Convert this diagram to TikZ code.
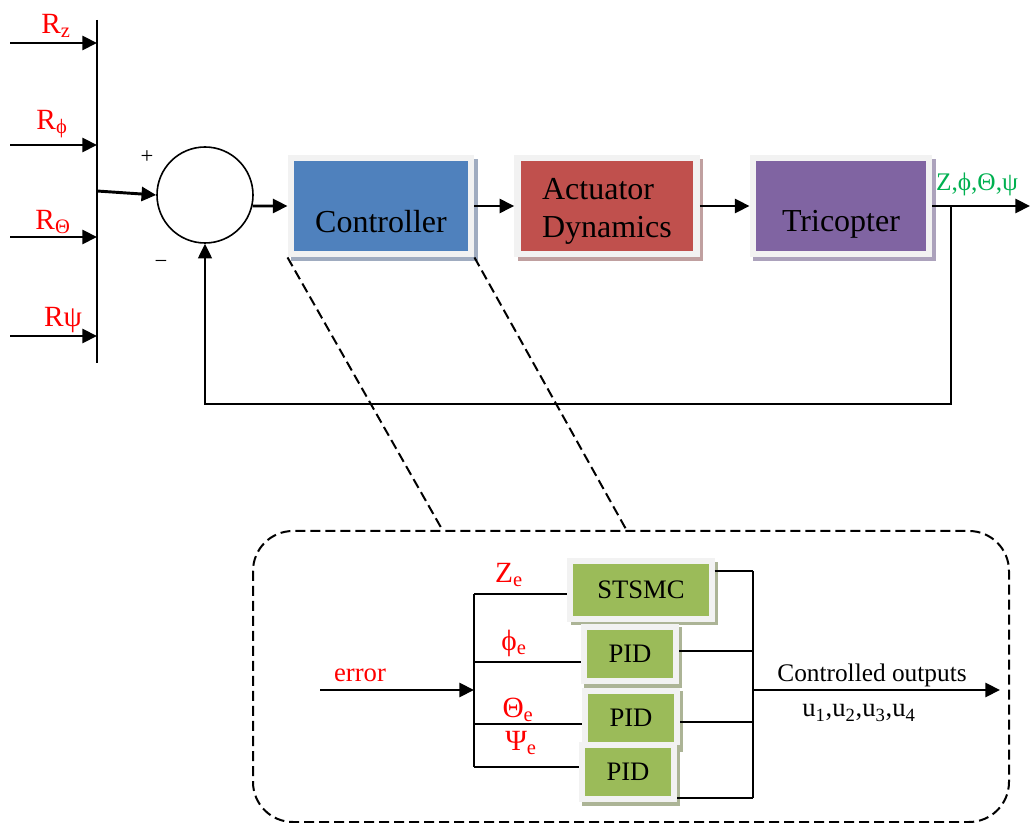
\documentclass[tikz,border=0pt]{standalone}
\usepackage{fontspec}
\setmainfont{Liberation Serif}
\usetikzlibrary{arrows.meta,calc,positioning}
\definecolor{ctrlblue}{RGB}{79,129,189}
\definecolor{actred}{RGB}{192,80,77}
\definecolor{tripurple}{RGB}{128,100,162}
\definecolor{pidgreen}{RGB}{155,187,89}
\definecolor{framegray}{RGB}{242,242,242}
\definecolor{ctrlshade}{RGB}{160,172,192}
\definecolor{actshade}{RGB}{192,160,160}
\definecolor{trishade}{RGB}{172,162,188}
\definecolor{pidshade}{RGB}{172,180,150}
\definecolor{outgreen}{RGB}{0,176,80}

\begin{document}
\begin{tikzpicture}[x=0.75pt, y=-0.75pt,
  arrow/.style={line width=2.2pt, -{Triangle[length=11pt,width=10.5pt]}},
  thinline/.style={line width=1.2pt},
  bigbox/.style 2 args={draw=framegray, fill=#1, line width=5.2pt,
    minimum width=135pt, minimum height=72pt, inner sep=0pt,
    preaction={draw=#2, fill=#2, line width=5.2pt,
      transform canvas={shift={(2.5pt,-3pt)}}}},
  smallbox/.style={draw=framegray, fill=pidgreen, line width=4.5pt,
    minimum width=69pt, minimum height=41pt, inner sep=0pt,
    font=\fontsize{20}{24}\selectfont,
    preaction={draw=pidshade, fill=pidshade, line width=4.5pt,
      transform canvas={shift={(2.5pt,-2.5pt)}}}},
  boxtext/.style={font=\fontsize{24}{28}\selectfont, inner sep=0pt},
  redlab/.style={text=red, font=\fontsize{22}{26}\selectfont, inner sep=0pt},
  dashline/.style={dashed, line width=1.5pt, dash pattern=on 7.5pt off 3.75pt}]

\useasboundingbox (0,0) rectangle (1033,823);

% Entrees de reference
\draw[line width=1.6pt] (97,20) -- (97,363);
\foreach \nm/\y/\lx/\ly/\txt in {rz/43/56/26/R\textsubscript{z},
    rphi/145/52/124/R\textsubscript{ϕ},
    rtheta/237/53/222/R\textsubscript{Θ},
    rpsi/336/63/320/Rψ} {
  \coordinate (in-\nm) at (10,\y);
  \draw[arrow] (in-\nm) -- (97,\y);
  \node[redlab] (lab-\nm) at (\lx,\ly) {\txt};
}

% Sommateur
\node[draw, circle, line width=1.2pt, minimum size=72pt, inner sep=0pt] (sum) at (205,195) {};
\coordinate (busjoin) at (97,191);
\draw[arrow] (busjoin) -- (sum.west);
\node[font=\fontsize{17}{19}\selectfont] (plus) at (147,157) {+};
\node[font=\fontsize{17}{19}\selectfont] (minus) at (161,264) {−};

% Blocs principaux
\node[bigbox={ctrlblue}{ctrlshade},
  label={[boxtext, yshift=-12pt]center:Controller}] (ctrl) at (381,206) {};
\node[bigbox={actred}{actshade}, minimum width=134pt,
  label={[boxtext, align=left, yshift=-4pt]center:Actuator\\Dynamics}] (act) at (607,206) {};
\node[bigbox={tripurple}{trishade}, minimum width=132pt,
  label={[boxtext, yshift=-14pt]center:Tricopter}] (tri) at (841,206) {};

\draw[arrow] (sum.-13) -- (ctrl.west);
\draw[arrow] (ctrl.east) -- (act.west);
\draw[arrow] (act.east) -- (tri.west);

% Sortie et retour
\coordinate (outend) at (1030,206);
\coordinate (fbtap) at (951,206);
\draw[arrow] (tri.east) -- (outend);
\node[text=outgreen, font=\fontsize{19}{22}\selectfont, inner sep=0pt] (outtxt) at (977,184) {Z,ϕ,Θ,ψ};
\draw[line width=1.2pt, -{Triangle[length=11pt,width=10.5pt]}] (fbtap) -- (fbtap |- 0,404) -| (sum.south);

% Zoom sur le controleur
\coordinate (zoomA) at (443,531);
\coordinate (zoomB) at (627,531);
\draw[dashline] (ctrl.south west) -- (zoomA);
\draw[dashline] (ctrl.south east) -- (zoomB);
\draw[dashline, rounded corners=30pt] (253,531) rectangle (1009,822);

% Blocs du controleur
\node[smallbox, minimum width=106pt, minimum height=43pt] (stsmc) at (641,590) {STSMC};
\node[smallbox] (pidphi) at (630,654) {PID};
\node[smallbox] (pidtheta) at (631,718) {PID};
\node[smallbox] (pidpsi) at (628,772) {PID};

\coordinate (errstart) at (320,690);
\coordinate (errin) at (474,690);
\coordinate (ltop) at (474,594);
\coordinate (lbot) at (474,767);
\coordinate (rtop) at (753,571);
\coordinate (rbot) at (753,798);
\coordinate (outjoin) at (753,690);
\coordinate (ctrlout) at (1000,690);

\draw[thinline] (ltop) -- (lbot);
\draw[thinline] (rtop) -- (rbot);
\foreach \bx/\yl/\yr in {stsmc/594/571, pidphi/662/651, pidtheta/724/722, pidpsi/767/798} {
  \draw[thinline] (ltop |- 0,\yl) -- (\bx.west |- 0,\yl);
  \draw[thinline] (\bx.east |- 0,\yr) -- (rtop |- 0,\yr);
}
\draw[arrow] (errstart) -- (errin);
\draw[arrow] (outjoin) -- (ctrlout);

% Etiquettes
\node[text=red, font=\fontsize{20}{24}\selectfont, inner sep=0pt] (errlab) at (360,675) {error};
\node[redlab] (lze) at (509,575) {Z\textsubscript{e}};
\node[redlab] (lphie) at (514,643) {ϕ\textsubscript{e}};
\node[redlab] (lthetae) at (518,710) {Θ\textsubscript{e}};
\node[redlab] (lpsie) at (521,743) {Ψ\textsubscript{e}};
\node[font=\fontsize{19}{22}\selectfont, inner sep=0pt] (ctrlouttxt) at (872,675) {Controlled outputs};
\node[font=\fontsize{20}{24}\selectfont, inner sep=0pt] (utxt) at (859,713) {u\textsubscript{1},u\textsubscript{2},u\textsubscript{3},u\textsubscript{4}};

\end{tikzpicture}
\end{document}
